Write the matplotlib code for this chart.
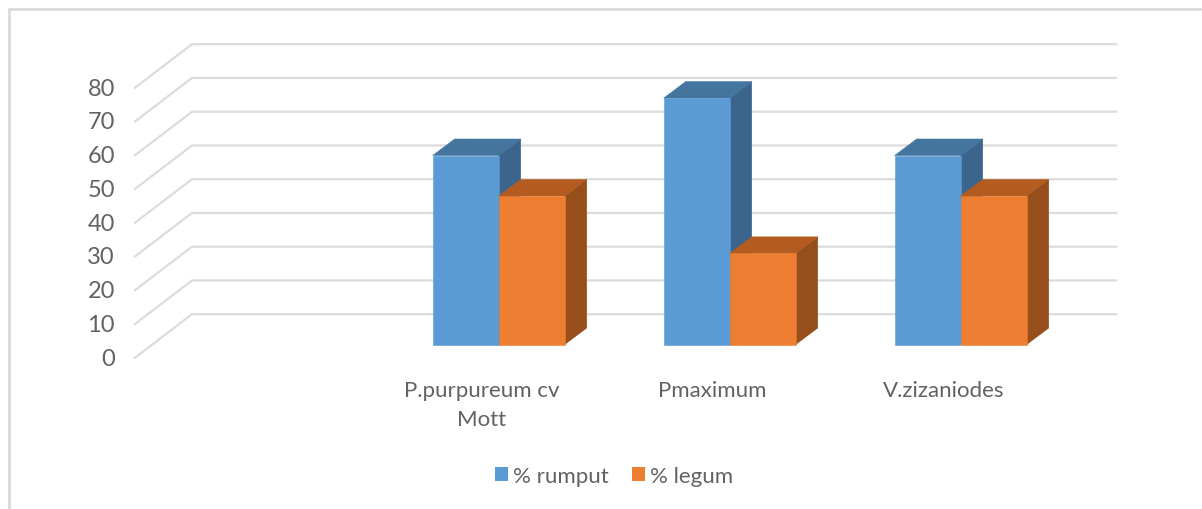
import matplotlib
matplotlib.use("Agg")
import matplotlib.pyplot as plt
from matplotlib.patches import Polygon, Patch
from matplotlib.lines import Line2D
from matplotlib.transforms import ScaledTranslation

categories = ["", "P.purpureum cv\nMott", "Pmaximum", "V.zizaniodes"]
rumput = [None, 56, 73, 56]
legum = [None, 44, 27, 44]
yticks = list(range(0, 90, 10))

W, H = 1202, 510
plt.rcParams['font.family'] = ['Lato', 'DejaVu Sans']
fig = plt.figure(figsize=(W / 100, H / 100), dpi=100)
fig.patch.set_facecolor('white')

# front plane of the 3D box, pixels
L, R, T, B = 135, 1059, 88.7, 358.7
ax = fig.add_axes([L / W, 1 - B / H, (R - L) / W, (B - T) / H])
ax.set_xlim(-0.5, 3.5)
ax.set_ylim(0, 80)
ax.patch.set_alpha(0)
for s in ax.spines.values():
    s.set_visible(False)

PX = 4 / (R - L)      # data x per pixel
PY = 80 / (B - T)     # data y per pixel
GREY = '#dcdcdc'
TXT = '#626262'

# walls
wall_dx, wall_dy = 57 * PX, 43.5 * PY
for v in yticks:
    ax.plot([-0.5, -0.5 + wall_dx, 3.5 + wall_dx], [v, v + wall_dy, v + wall_dy],
            color=GREY, lw=1.6, clip_on=False, zorder=1, solid_joinstyle='miter')

# bars
bar_w = 66 * PX
front_dx, front_dy = 17.2 * PX, 13.2 * PY
depth_dx, depth_dy = 22 * PX, 16.5 * PY


def box(x0, value, front, top, side, z):
    x0 += front_dx
    x1 = x0 + bar_w
    y0 = front_dy
    y1 = value + front_dy
    dx, dy = depth_dx, depth_dy
    polys = [([(x1, y0), (x1 + dx, y0 + dy), (x1 + dx, y1 + dy), (x1, y1)], side),
             ([(x0, y1), (x1, y1), (x1 + dx, y1 + dy), (x0 + dx, y1 + dy)], top),
             ([(x0, y0), (x1, y0), (x1, y1), (x0, y1)], front)]
    for pts, col in polys:
        ax.add_patch(Polygon(pts, closed=True, facecolor=col, edgecolor=col, lw=0.4,
                             clip_on=False, zorder=z))


BLUE = ('#5b9bd5', '#44759f', '#3b658c')
ORANGE = ('#ed7d31', '#b45c20', '#964e1b')
for i, (a, b) in enumerate(zip(rumput, legum)):
    if a is None:
        continue
    box(i - bar_w, a, *BLUE, 3)
    box(i, b, *ORANGE, 4)

# axes ticks
ax.set_yticks(yticks)
ax.set_xticks(range(len(categories)))
ax.set_xticklabels(categories, linespacing=1.54)
ax.tick_params(axis='y', length=0, pad=14.5, labelsize=17, labelcolor=TXT)
ax.tick_params(axis='x', length=0, pad=16, labelsize=16, labelcolor=TXT)
shift = ScaledTranslation(0, 1.5 / 100, fig.dpi_scale_trans)
for lab in ax.get_yticklabels():
    lab.set_transform(lab.get_transform() + shift)

# legend
handles = [Patch(facecolor=BLUE[0], label='% rumput'),
           Patch(facecolor=ORANGE[0], label='% legum')]
fig.legend(handles=handles, loc='center', bbox_to_anchor=(614 / W, 1 - 477 / H), ncol=2,
           frameon=False, fontsize=16, labelcolor=TXT, handlelength=0.6, handleheight=0.6,
           handletextpad=0.2, columnspacing=1.05, borderpad=0)

# chart frame: open at bottom and right
fig.add_artist(Line2D([8.5 / W, 8.5 / W, 1], [0, 1 - 9.5 / H, 1 - 9.5 / H],
                      color='#dadada', lw=2.0, solid_joinstyle='miter'))

fig.savefig('out.png', dpi=100)
